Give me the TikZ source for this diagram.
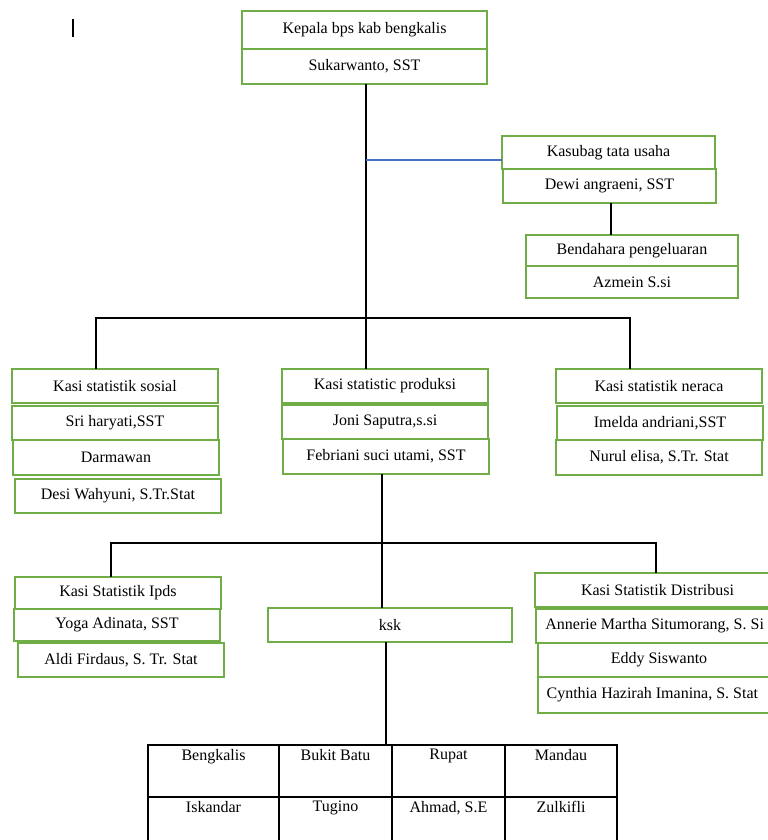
\documentclass[tikz,border=0pt]{standalone}
\usepackage{fontspec}
\setmainfont{Liberation Serif}
\definecolor{boxgreen}{HTML}{70AD47}
\definecolor{lineblue}{HTML}{4472C4}
\newcommand{\bx}[6]{\node[gbox, minimum width={(#4-#2)*0.75pt}, minimum height={(#5-#3)*0.75pt}] (#1) at ({(#2+#4)/2},{(#3+#5)/2}) {#6};}
\newcommand{\cell}[5]{\node[tcell, minimum width={(#4-#2)*0.75pt}, minimum height={(#5-#3)*0.75pt}] (#1) at ({(#2+#4)/2},{(#3+#5)/2}) {};}
\tikzset{
  gbox/.style={draw=boxgreen, line width=1pt, rectangle, inner sep=0pt, outer sep=0pt, font=\fontsize{12}{14}\selectfont},
  tcell/.style={draw=black, line width=0.9pt, rectangle, inner sep=0pt, outer sep=0pt},
  ttext/.style={anchor=north, inner sep=2.8pt, font=\fontsize{12}{14}\selectfont},
  conn/.style={draw=black, line width=0.8pt},
  bconn/.style={draw=lineblue, line width=0.8pt}
}
\begin{document}
\begin{tikzpicture}[x=0.75pt, y=-0.75pt]
\useasboundingbox (0,0) rectangle (768,840);
% cursor
\draw[line width=0.8pt] (73,19) -- (73,37);
% top
\bx{kep1}{242}{11}{487}{49}{Kepala bps kab bengkalis}
\bx{kep2}{242}{49}{487}{84}{Sukarwanto, SST}
% kasubag
\bx{kas1}{502}{136}{715}{169}{Kasubag tata usaha}
\bx{kas2}{503}{169}{716}{203}{Dewi angraeni, SST}
\bx{ben1}{526}{235}{738}{266}{Bendahara pengeluaran}
\bx{ben2}{526}{266}{738}{298}{Azmein S.si}
% level 2
\bx{sos1}{12}{369}{218}{403}{Kasi statistik sosial}
\bx{sos2}{12}{406}{218}{440}{Sri haryati,SST}
\bx{sos3}{13}{440}{219}{475}{Darmawan}
\bx{sos4}{15}{479}{221}{513}{Desi Wahyuni, S.Tr.Stat}
\bx{pro1}{282}{369}{488}{403}{Kasi statistic produksi}
\bx{pro2}{282}{405}{488}{439}{Joni Saputra,s.si}
\bx{pro3}{283}{439}{489}{474}{Febriani suci utami, SST}
\bx{ner1}{556}{369}{762}{403}{Kasi statistik neraca}
\bx{ner2}{557}{406}{763}{440}{Imelda andriani,SST}
\bx{ner3}{556}{440}{762}{475}{Nurul elisa, S.Tr. Stat}
% level 3
\bx{ipd1}{15}{577}{221}{609}{Kasi Statistik Ipds}
\bx{ipd2}{14}{609}{220}{641}{Yoga Adinata, SST}
\bx{ipd3}{18}{643}{224}{677}{Aldi Firdaus, S. Tr. Stat}
\bx{ksk}{268}{608}{512}{642}{ksk}
\bx{dis1}{535}{573}{780}{607}{Kasi Statistik Distribusi}
\bx{dis2}{536}{609}{780}{643}{\hspace*{-5pt}Annerie Martha Situmorang, S. Si}
\bx{dis3}{538}{643}{780}{677}{Eddy Siswanto}
\bx{dis4}{538}{677}{780}{713}{\hspace*{-10pt}Cynthia Hazirah Imanina, S. Stat}
% table
\cell{c11}{148}{745}{279}{797}
\cell{c12}{279}{745}{392}{797}
\cell{c13}{392}{745}{505}{797}
\cell{c14}{505}{745}{617}{797}
\cell{c21}{148}{797}{279}{850}
\cell{c22}{279}{797}{392}{850}
\cell{c23}{392}{797}{505}{850}
\cell{c24}{505}{797}{617}{850}
\node[ttext] (t11) at (c11.north) {Bengkalis};
\node[ttext] (t12) at (c12.north) {Bukit Batu};
\node[ttext] (t13) at (c13.north) {Rupat};
\node[ttext] (t14) at (c14.north) {Mandau};
\node[ttext] (t21) at (c21.north) {Iskandar};
\node[ttext] (t22) at (c22.north) {Tugino};
\node[ttext] (t23) at (c23.north) {Ahmad, S.E};
\node[ttext] (t24) at (c24.north) {Zulkifli};
% connectors
\coordinate (v1) at (366,318);
\coordinate (h1L) at (96,318);
\coordinate (h1R) at (630,318);
\coordinate (bl) at (502,160);
\coordinate (v2) at (382,543);
\coordinate (h2L) at (111,543);
\coordinate (h2R) at (656,543);
\coordinate (v3) at (386,700);
\coordinate (v4) at (611,220);
\draw[conn] (kep2.south -| v1) -- (v1 |- pro1.north);
\draw[bconn] (v1 |- bl) -- (bl);
\draw[conn] (kas2.south -| v4) -- (v4 |- ben1.north);
\draw[conn] (sos1.north -| h1L) -- (h1L) -- (h1R) -- (ner1.north -| h1R);
\draw[conn] (pro3.south -| v2) -- (v2 |- ksk.north);
\draw[conn] (ipd1.north -| h2L) -- (h2L) -- (h2R) -- (dis1.north -| h2R);
\draw[conn] (ksk.south -| v3) -- (v3 |- c12.north);
\end{tikzpicture}
\end{document}
